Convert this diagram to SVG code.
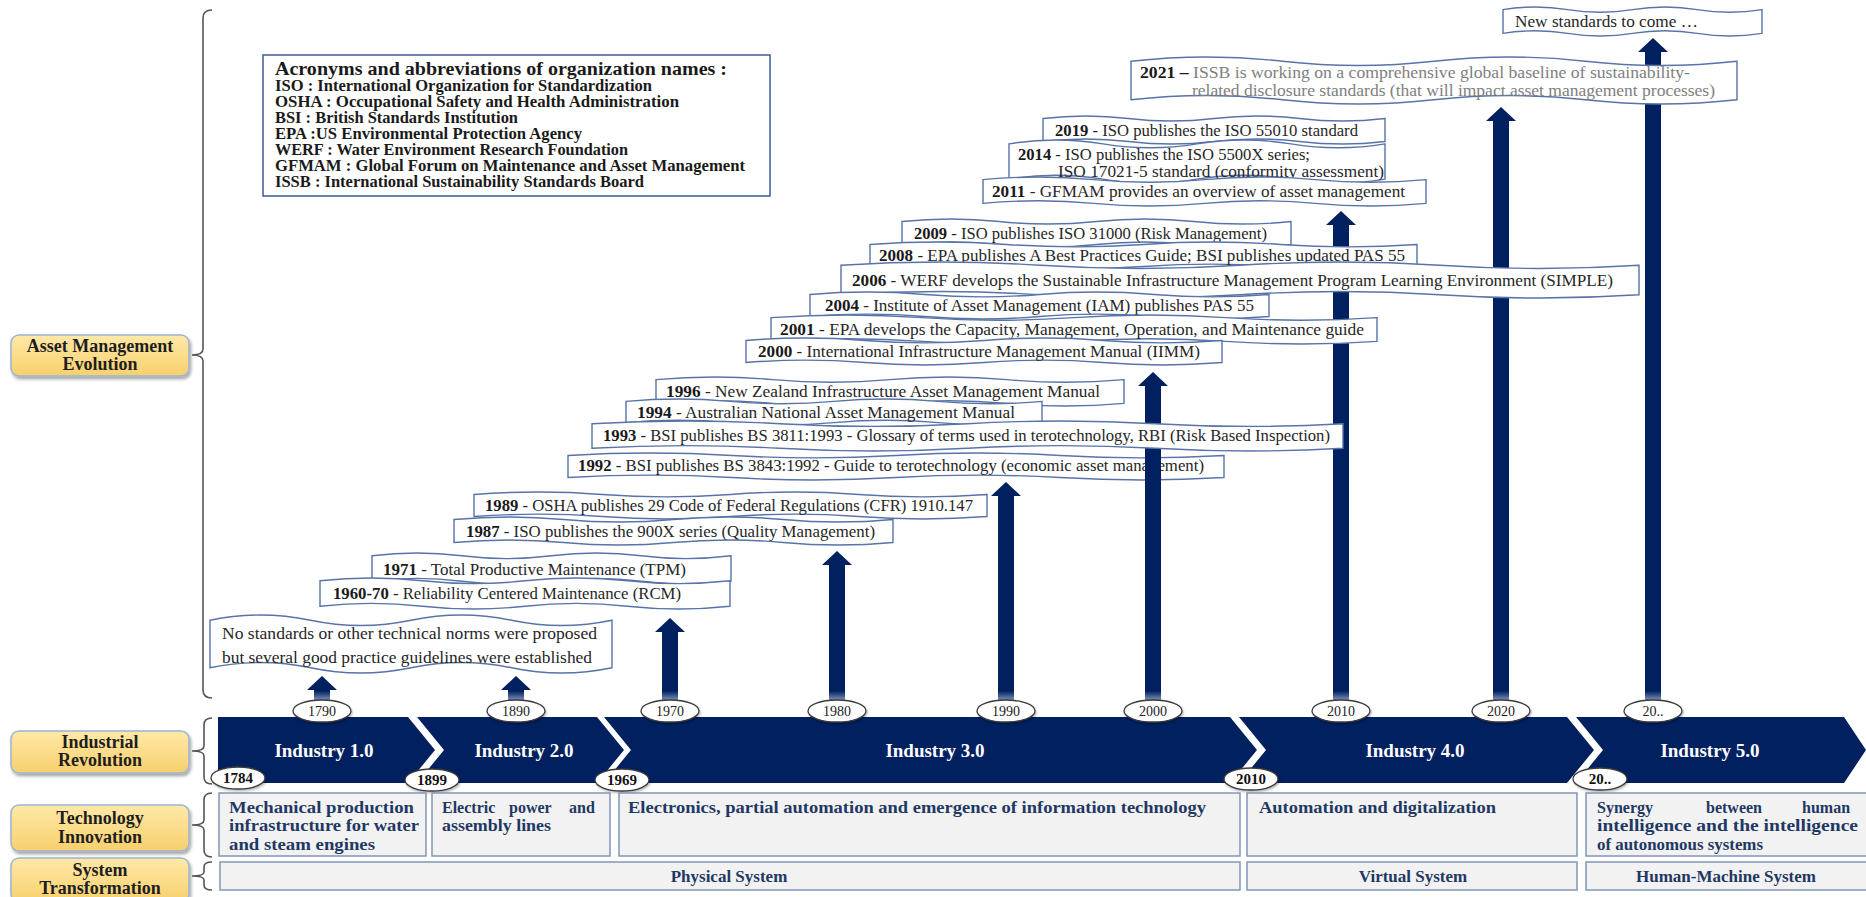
<svg xmlns="http://www.w3.org/2000/svg" width="1866" height="897" viewBox="0 0 1866 897">
<defs>
<style>
.wv{fill:#fff;stroke:#5773a8;stroke-width:1.4;vector-effect:non-scaling-stroke}
.bt{font-family:"Liberation Serif","Times New Roman",serif;font-size:17px;fill:#262626}
.b{font-weight:bold;fill:#1a1a1a}
.gr{fill:#808080}
.lab{fill:url(#yg);stroke:#9db4d4;stroke-width:1.5;filter:url(#sh)}
.labt{font-family:"Liberation Serif","Times New Roman",serif;font-size:18px;font-weight:bold;fill:#1e1e1e;text-anchor:middle}
.brace{fill:none;stroke:#555;stroke-width:1.6}
.band{fill:#002060}
.indt{font-family:"Liberation Serif","Times New Roman",serif;font-size:19px;font-weight:bold;fill:#fff;text-anchor:middle}
.ov{fill:#fff;stroke:#3a3a3a;stroke-width:1.3;filter:url(#sh2)}
.ovt{font-family:"Liberation Serif","Times New Roman",serif;font-size:14px;fill:#222;text-anchor:middle}
.ovb{font-weight:bold;font-size:15px;fill:#111}
.arr{fill:url(#ag)}
.tb{fill:#f2f2f2;stroke:#8096b8;stroke-width:1.5}
.tt{font-family:"Liberation Serif","Times New Roman",serif;font-size:16px;font-weight:bold;fill:#1f3864}
.st{font-size:17px;text-anchor:middle}
.acr{font-family:"Liberation Serif","Times New Roman",serif;font-size:16px;font-weight:bold;fill:#1a1a1a}
.acrbox{fill:#fff;stroke:#3b5a9a;stroke-width:1.5}
</style>
<linearGradient id="yg" x1="0" y1="0" x2="0" y2="1"><stop offset="0" stop-color="#ffe9a8"/><stop offset="1" stop-color="#f7d06c"/></linearGradient>
<linearGradient id="ag" gradientUnits="userSpaceOnUse" x1="0" y1="691" x2="0" y2="700"><stop offset="0" stop-color="#002060"/><stop offset="1" stop-color="#7d8fb8"/></linearGradient>
<filter id="sh" x="-10%" y="-20%" width="130%" height="160%"><feDropShadow dx="1.5" dy="2.5" stdDeviation="1.5" flood-color="#000" flood-opacity="0.35"/></filter>
<filter id="sh2" x="-20%" y="-30%" width="150%" height="180%"><feDropShadow dx="1" dy="1.5" stdDeviation="1" flood-color="#000" flood-opacity="0.3"/></filter>
</defs>
<rect width="1866" height="897" fill="#fff"/>

<!-- left labels -->
<g id="label-asset"><rect class="lab" x="11" y="335" width="178" height="41" rx="8"/><text class="labt" x="100" y="352">Asset Management</text><text class="labt" x="100" y="370">Evolution</text></g>
<g id="label-industrial"><rect class="lab" x="11" y="731" width="178" height="42" rx="8"/><text class="labt" x="100" y="748">Industrial</text><text class="labt" x="100" y="766">Revolution</text></g>
<g id="label-technology"><rect class="lab" x="11" y="805" width="178" height="46" rx="8"/><text class="labt" x="100" y="824">Technology</text><text class="labt" x="100" y="843">Innovation</text></g>
<g id="label-system"><rect class="lab" x="11" y="858" width="178" height="44" rx="8"/><text class="labt" x="100" y="876">System</text><text class="labt" x="100" y="894">Transformation</text></g>

<!-- braces -->
<g id="braces">
<path class="brace" d="M212,10 Q203,10 203,18 V349 Q203,355 192,355 Q203,355 203,361 V690 Q203,698 212,698"/>
<path class="brace" d="M212,718 Q204,718 204,725 V746 Q204,751 192,751 Q204,751 204,756 V777 Q204,784 212,784"/>
<path class="brace" d="M212,793 Q204,793 204,800 V820 Q204,825 192,825 Q204,825 204,830 V850 Q204,857 212,857"/>
<path class="brace" d="M212,862 Q204,862 204,867 V872 Q204,876 192,876 Q204,876 204,880 V885 Q204,890 212,890"/>
</g>

<!-- acronyms -->
<g id="acronyms">
<rect class="acrbox" x="263" y="55" width="507" height="141"/>
<text class="acr" x="275" y="75" style="font-size:18px" textLength="452" lengthAdjust="spacingAndGlyphs">Acronyms and abbreviations of organization names :</text>
<text class="acr" x="275" y="91" textLength="377" lengthAdjust="spacingAndGlyphs">ISO : International Organization for Standardization</text>
<text class="acr" x="275" y="107" textLength="404" lengthAdjust="spacingAndGlyphs">OSHA : Occupational Safety and Health Administration</text>
<text class="acr" x="275" y="123" textLength="243" lengthAdjust="spacingAndGlyphs">BSI : British Standards Institution</text>
<text class="acr" x="275" y="139" textLength="307" lengthAdjust="spacingAndGlyphs">EPA :US Environmental Protection Agency</text>
<text class="acr" x="275" y="155" textLength="353" lengthAdjust="spacingAndGlyphs">WERF : Water Environment Research Foundation</text>
<text class="acr" x="275" y="171" textLength="470" lengthAdjust="spacingAndGlyphs">GFMAM : Global Forum on Maintenance and Asset Management</text>
<text class="acr" x="275" y="187" textLength="369" lengthAdjust="spacingAndGlyphs">ISSB : International Sustainability Standards Board</text>
</g>

<!-- timeline band -->
<g id="band">
<path class="band" d="M218,717 H408 L435,750 L408,783 H218 Z"/>
<path class="band" d="M417,717 H597 L624,750 L597,783 H417 L444,750 Z"/>
<path class="band" d="M604,717 H1230 L1257,750 L1230,783 H604 L631,750 Z"/>
<path class="band" d="M1239,717 H1567 L1594,750 L1567,783 H1239 L1266,750 Z"/>
<path class="band" d="M1576,717 H1844 L1866,750 L1844,783 H1576 L1603,750 Z"/>
<text class="indt" x="324" y="757">Industry 1.0</text>
<text class="indt" x="524" y="757">Industry 2.0</text>
<text class="indt" x="935" y="757">Industry 3.0</text>
<text class="indt" x="1415" y="757">Industry 4.0</text>
<text class="indt" x="1710" y="757">Industry 5.0</text>
</g>

<!-- 1992 box (beneath connectors) -->
<g id="m1992"><path class="wv" transform="translate(568,453) scale(656,27)" d="M0,0.09 c0.0833,-0.12 0.1667,-0.12 0.25,0 s0.1667,0.12 0.25,0 s0.1667,-0.12 0.25,0 s0.1667,0.12 0.25,0 V0.91 c-0.0833,0.12 -0.1667,0.12 -0.25,0 s-0.1667,-0.12 -0.25,0 s-0.1667,0.12 -0.25,0 s-0.1667,-0.12 -0.25,0 Z"/><text class="bt" x="578" y="471" textLength="626" lengthAdjust="spacingAndGlyphs"><tspan class="b">1992</tspan> - BSI publishes BS 3843:1992 - Guide to terotechnology (economic asset management)</text></g>

<!-- connectors -->
<g id="connectors">
<path class="arr" d="M314,700 V690 H307 L322,676 L337,690 H330 V700 Z"/>
<path class="arr" d="M508,700 V690 H501 L516,676 L531,690 H524 V700 Z"/>
<path class="arr" d="M662,700 V632 H655 L670,618 L685,632 H678 V700 Z"/>
<path class="arr" d="M829,700 V565 H822 L837,551 L852,565 H845 V700 Z"/>
<path class="arr" d="M998,700 V496 H991 L1006,482 L1021,496 H1014 V700 Z"/>
<path class="arr" d="M1145,700 V386 H1138 L1153,372 L1168,386 H1161 V700 Z"/>
<path class="arr" d="M1333,700 V225 H1326 L1341,211 L1356,225 H1349 V700 Z"/>
<path class="arr" d="M1493,700 V121 H1486 L1501,107 L1516,121 H1509 V700 Z"/>
<path class="arr" d="M1645,700 V52 H1638 L1653,38 L1668,52 H1661 V700 Z"/>
</g>

<!-- year ovals -->
<g id="years">
<ellipse class="ov" cx="322" cy="711" rx="29" ry="11"/><text class="ovt" x="322" y="716">1790</text>
<ellipse class="ov" cx="516" cy="711" rx="29" ry="11"/><text class="ovt" x="516" y="716">1890</text>
<ellipse class="ov" cx="670" cy="711" rx="29" ry="11"/><text class="ovt" x="670" y="716">1970</text>
<ellipse class="ov" cx="837" cy="711" rx="29" ry="11"/><text class="ovt" x="837" y="716">1980</text>
<ellipse class="ov" cx="1006" cy="711" rx="29" ry="11"/><text class="ovt" x="1006" y="716">1990</text>
<ellipse class="ov" cx="1153" cy="711" rx="29" ry="11"/><text class="ovt" x="1153" y="716">2000</text>
<ellipse class="ov" cx="1341" cy="711" rx="29" ry="11"/><text class="ovt" x="1341" y="716">2010</text>
<ellipse class="ov" cx="1501" cy="711" rx="29" ry="11"/><text class="ovt" x="1501" y="716">2020</text>
<ellipse class="ov" cx="1653" cy="711" rx="29" ry="11"/><text class="ovt" x="1653" y="716">20..</text>
<ellipse class="ov" cx="238" cy="778" rx="27" ry="11"/><text class="ovt ovb" x="238" y="783">1784</text>
<ellipse class="ov" cx="432" cy="780" rx="27" ry="11"/><text class="ovt ovb" x="432" y="785">1899</text>
<ellipse class="ov" cx="622" cy="780" rx="27" ry="11"/><text class="ovt ovb" x="622" y="785">1969</text>
<ellipse class="ov" cx="1251" cy="779" rx="27" ry="11"/><text class="ovt ovb" x="1251" y="784">2010</text>
<ellipse class="ov" cx="1600" cy="779" rx="27" ry="11"/><text class="ovt ovb" x="1600" y="784">20..</text>
</g>

<!-- milestone boxes -->
<g id="m-new"><path class="wv" transform="translate(1503,7) scale(259,29)" d="M0,0.09 c0.0833,-0.12 0.1667,-0.12 0.25,0 s0.1667,0.12 0.25,0 s0.1667,-0.12 0.25,0 s0.1667,0.12 0.25,0 V0.91 c-0.0833,0.12 -0.1667,0.12 -0.25,0 s-0.1667,-0.12 -0.25,0 s-0.1667,0.12 -0.25,0 s-0.1667,-0.12 -0.25,0 Z"/><text class="bt" x="1515" y="27" textLength="183" lengthAdjust="spacingAndGlyphs">New standards to come …</text></g>
<g id="m2021"><path class="wv" transform="translate(1131,57) scale(606,47)" d="M0,0.09 c0.0833,-0.12 0.1667,-0.12 0.25,0 s0.1667,0.12 0.25,0 s0.1667,-0.12 0.25,0 s0.1667,0.12 0.25,0 V0.91 c-0.0833,0.12 -0.1667,0.12 -0.25,0 s-0.1667,-0.12 -0.25,0 s-0.1667,0.12 -0.25,0 s-0.1667,-0.12 -0.25,0 Z"/><text class="bt" x="1140" y="78" textLength="550" lengthAdjust="spacingAndGlyphs"><tspan class="b">2021 –</tspan><tspan class="gr"> ISSB is working on a comprehensive global baseline of sustainability-</tspan></text><text class="bt gr" x="1192" y="96" textLength="523" lengthAdjust="spacingAndGlyphs">related disclosure standards (that will impact asset management processes)</text></g>
<g id="m2019"><path class="wv" transform="translate(1043,116) scale(342,28)" d="M0,0.09 c0.0833,-0.12 0.1667,-0.12 0.25,0 s0.1667,0.12 0.25,0 s0.1667,-0.12 0.25,0 s0.1667,0.12 0.25,0 V0.91 c-0.0833,0.12 -0.1667,0.12 -0.25,0 s-0.1667,-0.12 -0.25,0 s-0.1667,0.12 -0.25,0 s-0.1667,-0.12 -0.25,0 Z"/><text class="bt" x="1055" y="136" textLength="303" lengthAdjust="spacingAndGlyphs"><tspan class="b">2019</tspan> - ISO publishes the ISO 55010 standard</text></g>
<g id="m2014"><path class="wv" transform="translate(1009,140) scale(376,43)" d="M0,0.09 c0.0833,-0.12 0.1667,-0.12 0.25,0 s0.1667,0.12 0.25,0 s0.1667,-0.12 0.25,0 s0.1667,0.12 0.25,0 V0.91 c-0.0833,0.12 -0.1667,0.12 -0.25,0 s-0.1667,-0.12 -0.25,0 s-0.1667,0.12 -0.25,0 s-0.1667,-0.12 -0.25,0 Z"/><text class="bt" x="1018" y="160" textLength="292" lengthAdjust="spacingAndGlyphs"><tspan class="b">2014</tspan> - ISO publishes the ISO 5500X series;</text><text class="bt" x="1058" y="177" textLength="326" lengthAdjust="spacingAndGlyphs">ISO 17021-5 standard (conformity assessment)</text></g>
<g id="m2011"><path class="wv" transform="translate(983,177) scale(443,29)" d="M0,0.09 c0.0833,-0.12 0.1667,-0.12 0.25,0 s0.1667,0.12 0.25,0 s0.1667,-0.12 0.25,0 s0.1667,0.12 0.25,0 V0.91 c-0.0833,0.12 -0.1667,0.12 -0.25,0 s-0.1667,-0.12 -0.25,0 s-0.1667,0.12 -0.25,0 s-0.1667,-0.12 -0.25,0 Z"/><text class="bt" x="992" y="197" textLength="413" lengthAdjust="spacingAndGlyphs"><tspan class="b">2011</tspan> - GFMAM provides an overview of asset management</text></g>
<g id="m2009"><path class="wv" transform="translate(902,219) scale(389,28)" d="M0,0.09 c0.0833,-0.12 0.1667,-0.12 0.25,0 s0.1667,0.12 0.25,0 s0.1667,-0.12 0.25,0 s0.1667,0.12 0.25,0 V0.91 c-0.0833,0.12 -0.1667,0.12 -0.25,0 s-0.1667,-0.12 -0.25,0 s-0.1667,0.12 -0.25,0 s-0.1667,-0.12 -0.25,0 Z"/><text class="bt" x="914" y="239" textLength="353" lengthAdjust="spacingAndGlyphs"><tspan class="b">2009</tspan> - ISO publishes ISO 31000 (Risk Management)</text></g>
<g id="m2008"><path class="wv" transform="translate(870,242) scale(547,27)" d="M0,0.09 c0.0833,-0.12 0.1667,-0.12 0.25,0 s0.1667,0.12 0.25,0 s0.1667,-0.12 0.25,0 s0.1667,0.12 0.25,0 V0.91 c-0.0833,0.12 -0.1667,0.12 -0.25,0 s-0.1667,-0.12 -0.25,0 s-0.1667,0.12 -0.25,0 s-0.1667,-0.12 -0.25,0 Z"/><text class="bt" x="879" y="261" textLength="526" lengthAdjust="spacingAndGlyphs"><tspan class="b">2008</tspan> - EPA publishes A Best Practices Guide; BSI publishes updated PAS 55</text></g>
<g id="m2006"><path class="wv" transform="translate(841,262) scale(798,36)" d="M0,0.09 c0.0833,-0.12 0.1667,-0.12 0.25,0 s0.1667,0.12 0.25,0 s0.1667,-0.12 0.25,0 s0.1667,0.12 0.25,0 V0.91 c-0.0833,0.12 -0.1667,0.12 -0.25,0 s-0.1667,-0.12 -0.25,0 s-0.1667,0.12 -0.25,0 s-0.1667,-0.12 -0.25,0 Z"/><text class="bt" x="852" y="286" textLength="761" lengthAdjust="spacingAndGlyphs"><tspan class="b">2006</tspan> - WERF develops the Sustainable Infrastructure Management Program Learning Environment (SIMPLE)</text></g>
<g id="m2004"><path class="wv" transform="translate(810,292) scale(459,27)" d="M0,0.09 c0.0833,-0.12 0.1667,-0.12 0.25,0 s0.1667,0.12 0.25,0 s0.1667,-0.12 0.25,0 s0.1667,0.12 0.25,0 V0.91 c-0.0833,0.12 -0.1667,0.12 -0.25,0 s-0.1667,-0.12 -0.25,0 s-0.1667,0.12 -0.25,0 s-0.1667,-0.12 -0.25,0 Z"/><text class="bt" x="825" y="311" textLength="429" lengthAdjust="spacingAndGlyphs"><tspan class="b">2004</tspan> - Institute of Asset Management (IAM) publishes PAS 55</text></g>
<g id="m2001"><path class="wv" transform="translate(771,315) scale(606,29)" d="M0,0.09 c0.0833,-0.12 0.1667,-0.12 0.25,0 s0.1667,0.12 0.25,0 s0.1667,-0.12 0.25,0 s0.1667,0.12 0.25,0 V0.91 c-0.0833,0.12 -0.1667,0.12 -0.25,0 s-0.1667,-0.12 -0.25,0 s-0.1667,0.12 -0.25,0 s-0.1667,-0.12 -0.25,0 Z"/><text class="bt" x="780" y="335" textLength="584" lengthAdjust="spacingAndGlyphs"><tspan class="b">2001</tspan> - EPA develops the Capacity, Management, Operation, and Maintenance guide</text></g>
<g id="m2000"><path class="wv" transform="translate(746,338) scale(476,27)" d="M0,0.09 c0.0833,-0.12 0.1667,-0.12 0.25,0 s0.1667,0.12 0.25,0 s0.1667,-0.12 0.25,0 s0.1667,0.12 0.25,0 V0.91 c-0.0833,0.12 -0.1667,0.12 -0.25,0 s-0.1667,-0.12 -0.25,0 s-0.1667,0.12 -0.25,0 s-0.1667,-0.12 -0.25,0 Z"/><text class="bt" x="758" y="357" textLength="442" lengthAdjust="spacingAndGlyphs"><tspan class="b">2000</tspan> - International Infrastructure Management Manual (IIMM)</text></g>
<g id="m1996"><path class="wv" transform="translate(656,377) scale(468,29)" d="M0,0.09 c0.0833,-0.12 0.1667,-0.12 0.25,0 s0.1667,0.12 0.25,0 s0.1667,-0.12 0.25,0 s0.1667,0.12 0.25,0 V0.91 c-0.0833,0.12 -0.1667,0.12 -0.25,0 s-0.1667,-0.12 -0.25,0 s-0.1667,0.12 -0.25,0 s-0.1667,-0.12 -0.25,0 Z"/><text class="bt" x="666" y="397" textLength="434" lengthAdjust="spacingAndGlyphs"><tspan class="b">1996</tspan> - New Zealand Infrastructure Asset Management Manual</text></g>
<g id="m1994"><path class="wv" transform="translate(626,399) scale(416,26)" d="M0,0.09 c0.0833,-0.12 0.1667,-0.12 0.25,0 s0.1667,0.12 0.25,0 s0.1667,-0.12 0.25,0 s0.1667,0.12 0.25,0 V0.91 c-0.0833,0.12 -0.1667,0.12 -0.25,0 s-0.1667,-0.12 -0.25,0 s-0.1667,0.12 -0.25,0 s-0.1667,-0.12 -0.25,0 Z"/><text class="bt" x="637" y="418" textLength="378" lengthAdjust="spacingAndGlyphs"><tspan class="b">1994</tspan> - Australian National Asset Management Manual</text></g>
<g id="m1993"><path class="wv" transform="translate(592,421) scale(751,30)" d="M0,0.09 c0.0833,-0.12 0.1667,-0.12 0.25,0 s0.1667,0.12 0.25,0 s0.1667,-0.12 0.25,0 s0.1667,0.12 0.25,0 V0.91 c-0.0833,0.12 -0.1667,0.12 -0.25,0 s-0.1667,-0.12 -0.25,0 s-0.1667,0.12 -0.25,0 s-0.1667,-0.12 -0.25,0 Z"/><text class="bt" x="603" y="441" textLength="727" lengthAdjust="spacingAndGlyphs"><tspan class="b">1993</tspan> - BSI publishes BS 3811:1993 - Glossary of terms used in terotechnology, RBI (Risk Based Inspection)</text></g>
<g id="m1989"><path class="wv" transform="translate(474,492) scale(513,27)" d="M0,0.09 c0.0833,-0.12 0.1667,-0.12 0.25,0 s0.1667,0.12 0.25,0 s0.1667,-0.12 0.25,0 s0.1667,0.12 0.25,0 V0.91 c-0.0833,0.12 -0.1667,0.12 -0.25,0 s-0.1667,-0.12 -0.25,0 s-0.1667,0.12 -0.25,0 s-0.1667,-0.12 -0.25,0 Z"/><text class="bt" x="485" y="511" textLength="488" lengthAdjust="spacingAndGlyphs"><tspan class="b">1989</tspan> - OSHA publishes 29 Code of Federal Regulations (CFR) 1910.147</text></g>
<g id="m1987"><path class="wv" transform="translate(454,517) scale(439,28)" d="M0,0.09 c0.0833,-0.12 0.1667,-0.12 0.25,0 s0.1667,0.12 0.25,0 s0.1667,-0.12 0.25,0 s0.1667,0.12 0.25,0 V0.91 c-0.0833,0.12 -0.1667,0.12 -0.25,0 s-0.1667,-0.12 -0.25,0 s-0.1667,0.12 -0.25,0 s-0.1667,-0.12 -0.25,0 Z"/><text class="bt" x="466" y="537" textLength="409" lengthAdjust="spacingAndGlyphs"><tspan class="b">1987</tspan> - ISO publishes the 900X series (Quality Management)</text></g>
<g id="m1971"><path class="wv" transform="translate(372,553) scale(359,31)" d="M0,0.09 c0.0833,-0.12 0.1667,-0.12 0.25,0 s0.1667,0.12 0.25,0 s0.1667,-0.12 0.25,0 s0.1667,0.12 0.25,0 V0.91 c-0.0833,0.12 -0.1667,0.12 -0.25,0 s-0.1667,-0.12 -0.25,0 s-0.1667,0.12 -0.25,0 s-0.1667,-0.12 -0.25,0 Z"/><text class="bt" x="383" y="575" textLength="303" lengthAdjust="spacingAndGlyphs"><tspan class="b">1971</tspan> - Total Productive Maintenance (TPM)</text></g>
<g id="m1960"><path class="wv" transform="translate(320,578) scale(410,31)" d="M0,0.09 c0.0833,-0.12 0.1667,-0.12 0.25,0 s0.1667,0.12 0.25,0 s0.1667,-0.12 0.25,0 s0.1667,0.12 0.25,0 V0.91 c-0.0833,0.12 -0.1667,0.12 -0.25,0 s-0.1667,-0.12 -0.25,0 s-0.1667,0.12 -0.25,0 s-0.1667,-0.12 -0.25,0 Z"/><text class="bt" x="333" y="599" textLength="348" lengthAdjust="spacingAndGlyphs"><tspan class="b">1960-70</tspan> - Reliability Centered Maintenance (RCM)</text></g>
<g id="m-nostd"><path class="wv" transform="translate(210,615) scale(402,58)" d="M0,0.09 c0.0833,-0.12 0.1667,-0.12 0.25,0 s0.1667,0.12 0.25,0 s0.1667,-0.12 0.25,0 s0.1667,0.12 0.25,0 V0.91 c-0.0833,0.12 -0.1667,0.12 -0.25,0 s-0.1667,-0.12 -0.25,0 s-0.1667,0.12 -0.25,0 s-0.1667,-0.12 -0.25,0 Z"/><text class="bt" x="222" y="639" textLength="375" lengthAdjust="spacingAndGlyphs">No standards or other technical norms were proposed</text><text class="bt" x="222" y="663" textLength="370" lengthAdjust="spacingAndGlyphs">but several good practice guidelines were established</text></g>

<!-- technology innovation -->
<g id="tech1"><rect class="tb" x="219" y="793" width="207" height="63"/><text class="tt" x="229" y="813" textLength="185" lengthAdjust="spacingAndGlyphs">Mechanical production</text><text class="tt" x="229" y="831" textLength="190" lengthAdjust="spacingAndGlyphs">infrastructure for water</text><text class="tt" x="229" y="850" textLength="146" lengthAdjust="spacingAndGlyphs">and steam engines</text></g>
<g id="tech2"><rect class="tb" x="432" y="793" width="178" height="63"/><text class="tt" y="813"><tspan x="442">Electric</tspan><tspan x="509">power</tspan><tspan x="569">and</tspan></text><text class="tt" x="442" y="831" textLength="109" lengthAdjust="spacingAndGlyphs">assembly lines</text></g>
<g id="tech3"><rect class="tb" x="619" y="793" width="621" height="63"/><text class="tt" x="628" y="813" textLength="578" lengthAdjust="spacingAndGlyphs">Electronics, partial automation and emergence of information technology</text></g>
<g id="tech4"><rect class="tb" x="1247" y="793" width="330" height="63"/><text class="tt" x="1259" y="813" textLength="237" lengthAdjust="spacingAndGlyphs">Automation and digitalization</text></g>
<g id="tech5"><rect class="tb" x="1586" y="793" width="290" height="63"/><text class="tt" y="813"><tspan x="1597">Synergy</tspan><tspan x="1706">between</tspan><tspan x="1802">human</tspan></text><text class="tt" x="1597" y="831" textLength="261" lengthAdjust="spacingAndGlyphs">intelligence and the intelligence</text><text class="tt" x="1597" y="850" textLength="166" lengthAdjust="spacingAndGlyphs">of autonomous systems</text></g>

<!-- system transformation -->
<g id="sys1"><rect class="tb" x="220" y="862" width="1020" height="28"/><text class="tt st" x="729" y="882">Physical System</text></g>
<g id="sys2"><rect class="tb" x="1247" y="862" width="330" height="28"/><text class="tt st" x="1413" y="882">Virtual System</text></g>
<g id="sys3"><rect class="tb" x="1586" y="862" width="290" height="28"/><text class="tt st" x="1726" y="882">Human-Machine System</text></g>
</svg>
